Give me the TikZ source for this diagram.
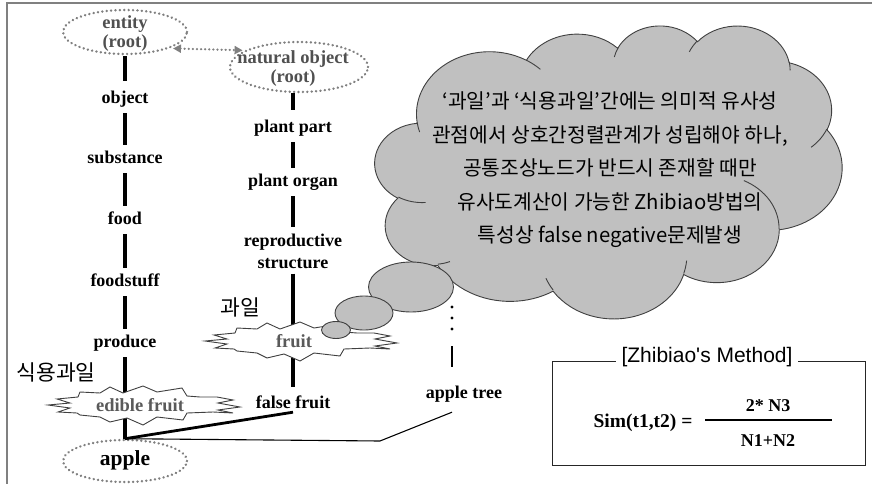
\documentclass[tikz,border=0pt]{standalone}
\usepackage{fontspec}
\setmainfont{Liberation Serif}
\newfontfamily\krfont{Noto Sans CJK KR}
\newfontfamily\lsfont{Liberation Sans}
\usetikzlibrary{shapes.geometric,calc,arrows.meta}
\definecolor{cloudgray}{HTML}{C0C0C0}
\definecolor{edgegray}{HTML}{404040}
\definecolor{framegray}{HTML}{808080}
\definecolor{dotgray}{HTML}{808080}
\definecolor{roottext}{HTML}{505050}
\definecolor{bursttext}{HTML}{5A5A5A}
\newcommand\carc[4]{arc[x radius=#1, y radius=#2, start angle={atan2(#1*sin(#3),#2*cos(#3))}, delta angle={mod(atan2(#1*sin((#3)+(#4)),#2*cos((#3)+(#4)))-atan2(#1*sin(#3),#2*cos(#3))+720,360)}]}
\tikzset{
  starburstpic/.pic={
    \draw[edgegray, line width=0.9, fill=white, line join=miter]
      (-66,-8) -- (-64,-13) -- (-44,-12) -- (-34,-18) -- (-21,-12) -- (-1,-19) -- (13,-13) -- (38,-17) -- (43,-9) -- (56,-8)
      -- (73,-8) -- (89,-5) -- (74,-2) -- (96,2) -- (74,5) -- (89,8) -- (69,7)
      -- (43,8) -- (39,15) -- (13,12) -- (-1,20) -- (-17,13) -- (-34,17) -- (-44,12) -- (-64,10)
      -- (-67,8) -- (-86,7) -- (-74,3) -- (-96,0) -- (-74,-2) -- (-87,-6) -- cycle;
  }
}
\begin{document}
\begin{tikzpicture}[x=1pt,y=-1pt,
  lbl/.style={font=\fontsize{18}{21}\selectfont\bfseries, inner sep=0pt, text height=12pt, text depth=4pt, align=center},
  rootell/.style={ellipse, draw=dotgray, line width=2.6, dash pattern=on 0.1pt off 4.3pt, line cap=round, inner sep=0pt},
  roottxt/.style={font=\fontsize{18.5}{19}\selectfont\bfseries, text=roottext, align=center, inner sep=0pt},
  bursttxt/.style={font=\fontsize{18.5}{21}\selectfont\bfseries, text=bursttext, inner sep=0pt},
  krlbl/.style={font=\krfont\fontsize{21.5}{23}\selectfont, inner sep=0pt},
  conn/.style={line width=3.8, black},
  bubble/.style={fill=cloudgray, draw=edgegray, line width=0.9},
  rootarrow/.style={dotgray, line width=2.4, dash pattern=on 0.1pt off 4pt, line cap=round, {Triangle[length=8pt,width=8pt]}-{Triangle[length=8pt,width=8pt]}}
]
\useasboundingbox (0,0) rectangle (872,484);
% frame
\draw[framegray, line width=2] (7,484) -- (7,3) -- (872,3);

% cloud (PowerPoint-style cloud outline)
\begin{scope}[shift={(375,25)}, x=0.1081pt, y=-0.0678pt]
  \path[fill=cloudgray, draw=edgegray, line width=0.9] (390,1437)
    \carc{675.3}{919.0}{-190.4875}{123.7805}
    \carc{533.3}{726.7}{-144.1024}{89.9452}
    \carc{436.5}{594.5}{-145.8079}{99.7230}
    \carc{485.7}{659.5}{-130.9861}{117.2417}
    \carc{533.3}{727.3}{-78.7089}{109.0269}
    \carc{677.5}{922.0}{-46.2673}{130.2690}
    \carc{578.5}{786.7}{0.6250}{114.0333}
    \carc{675.2}{921.5}{22.4516}{115.1726}
    \carc{772.0}{1054.3}{66.2426}{75.7110}
    \carc{436.0}{591.8}{-274.9421}{146.7356}
    \carc{434.5}{594.5}{-246.8285}{152.5189} -- cycle;
  \path[draw=edgegray, line width=0.9]
    (469.3,2617.7) \carc{434.5}{594.5}{86.7420}{26.4295}
    (692.8,3489.9) \carc{436.0}{591.8}{73.6105}{11.4475}
    (1647.8,3909.0) \carc{675.2}{921.5}{137.6242}{14.0811}
    (2882.7,3475.1) \carc{675.2}{921.5}{6.4533}{15.9984}
    (3412.9,2295.4) \carc{578.5}{786.7}{-70.2924}{70.9174}
    (4179.8,1535.4) \carc{533.3}{727.3}{30.3180}{27.7515}
    (3832.4,542.6) \carc{485.7}{659.5}{-13.7443}{14.8589}
    (2907.8,395.2) \carc{485.7}{659.5}{-149.1815}{18.1954}
    (2214.1,472.0) \carc{436.5}{594.5}{-163.4943}{17.6864}
    (1400.0,519.2) \carc{675.3}{919.0}{-66.7070}{12.3194}
    (412.7,1578.9) \carc{675.3}{919.0}{157.6544}{11.8582};
\end{scope}
\node[font=\krfont\fontsize{20.3}{33.5}\selectfont, align=center, inner sep=0pt] (cloudtext) at (610,170)
  {‘과일’과 ‘식용과일’간에는 의미적 유사성\\
   관점에서 상호간정렬관계가 성립해야 하나,\\
   공통조상노드가 반드시 존재할 때만\\
   유사도계산이 가능한 Zhibiao방법의\\
   특성상 false negative문제발생};

% root ellipses
\node[rootell, minimum width=124, minimum height=44] (entity) at (125,32) {};
\node[roottxt] (entitytext) at (125,34) {entity\\(root)};
\node[rootell, minimum width=138, minimum height=50] (natobj) at (299,67) {};
\node[roottxt] (natobjtext) at (293,69) {natural object\\(root)};
\draw[rootarrow, shorten <=3, shorten >=2] (entity.-20) -- (natobj.163);

% left column labels
\node[lbl] (object) at (125,99) {object};
\node[lbl] (substance) at (125,159) {substance};
\node[lbl] (food) at (125,220) {food};
\node[lbl] (foodstuff) at (125,282) {foodstuff};
\node[lbl] (produce) at (125,343) {produce};
\node[rootell, minimum width=124, minimum height=42] (apple) at (125,461) {};
\node[font=\fontsize{21.5}{24}\selectfont\bfseries, inner sep=0pt] (appletext) at (125,460) {apple};

% right column labels
\node[lbl] (plantpart) at (293,128) {plant part};
\node[lbl] (plantorgan) at (293,182) {plant organ};
\node[lbl, font=\fontsize{18}{22}\selectfont\bfseries, text height=, text depth=] (structure) at (293,251) {reproductive\\structure};
\node[lbl] (falsefruit) at (293,404) {false fruit};
\node[lbl] (appletree) at (464,394) {apple tree};

% korean labels
\node[krlbl] (gwail) at (240,307) {과일};
\node[krlbl] (sikyong) at (56,372) {식용과일};

% connectors
\draw[conn, shorten <=1, shorten >=10] (entity) -- (object);
\draw[conn, shorten <=6, shorten >=6] (object) -- (substance);
\draw[conn, shorten <=6, shorten >=6] (substance) -- (food);
\draw[conn, shorten <=6, shorten >=6] (food) -- (foodstuff);
\draw[conn, shorten <=6, shorten >=6] (foodstuff) -- (produce);
\draw[conn, shorten <=6] (produce) -- (apple);
\draw[conn, shorten >=10] (natobj.south -| plantpart.north) -- (plantpart);
\draw[conn, shorten <=6, shorten >=6] (plantpart) -- (plantorgan);
\draw[conn, shorten <=6, shorten >=6] (plantorgan) -- (structure);
\draw[conn, shorten <=5, shorten >=9] (structure) -- (falsefruit);
\draw[line width=2.8] (apple.north) -- (falsefruit.south);
\coordinate (bend) at (380,441);
\coordinate (treefoot) at ($(appletree.south)+(-12,10)$);
\draw[line width=1.1] (apple.north) -- (bend) -- (treefoot);

% dots above apple tree
\fill (452,307) circle (1.6);
\fill (452,318) circle (1.6);
\fill (452,329) circle (1.6);
\draw[line width=1.1] (452,346) -- (452,367);

% starbursts
\pic at (144,405) {starburstpic};
\node[bursttxt] (ediblefruit) at (140,405) {edible fruit};
\pic at (301,341) {starburstpic};
\node[bursttxt] (fruit) at (294,341) {fruit};

% thought bubbles
\draw[bubble] (411,287) ellipse [x radius=42.5, y radius=25];
\draw[bubble] (364,313) ellipse [x radius=29, y radius=17];
\draw[bubble] (336,330) ellipse [x radius=14.5, y radius=8.5];

% formula box
\draw[black!85, line width=1] (552,361) rectangle (865,465);
\node[font=\lsfont\fontsize{21}{24}\selectfont, fill=white, inner xsep=6pt, inner ysep=0pt] (title) at (707,357) {[Zhibiao's Method]};
\node[font=\fontsize{19.5}{21}\selectfont\bfseries, inner sep=0pt] (sim) at (643,423) {Sim(t1,t2) =};
\node[font=\fontsize{18}{21}\selectfont\bfseries, inner sep=0pt] (num) at (768,406) {2* N3};
\node[font=\fontsize{18}{21}\selectfont\bfseries, inner sep=0pt] (den) at (768,441) {N1+N2};
\draw[line width=1.2] (705,420) -- (832,420);
\end{tikzpicture}
\end{document}
